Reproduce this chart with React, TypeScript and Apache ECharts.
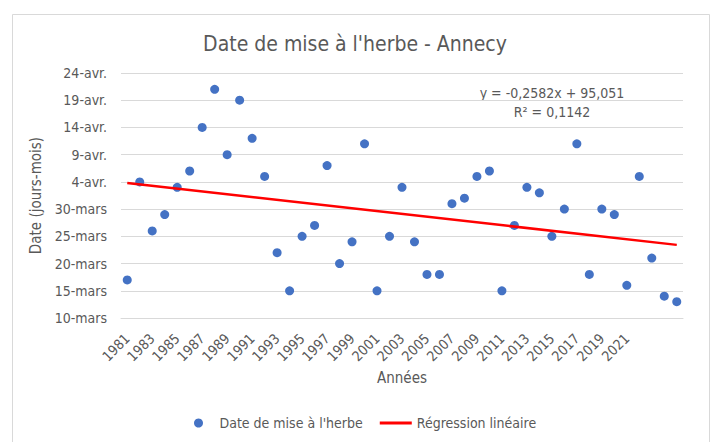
import React, { useEffect, useRef } from "react";
import * as echarts from "echarts";

const years: string[] = [
  "1981","1982","1983","1984","1985","1986","1987","1988","1989","1990",
  "1991","1992","1993","1994","1995","1996","1997","1998","1999","2000",
  "2001","2002","2003","2004","2005","2006","2007","2008","2009","2010",
  "2011","2012","2013","2014","2015","2016","2017","2018","2019","2020",
  "2021","2022","2023","2024","2025",
];

// Excel date serial (day of year in 1900 base): 70 = 10-mars ... 115 = 24-avr.
const grazingDate: number[] = [
  77, 95, 86, 89, 94, 97, 105, 112, 100, 110,
  103, 96, 82, 75, 85, 87, 98, 80, 84, 102,
  75, 85, 94, 84, 78, 78, 91, 92, 96, 97,
  75, 87, 94, 93, 85, 90, 102, 78, 90, 89,
  76, 96, 81, 74, 73,
];

const yTickValues: number[] = [70, 75, 80, 85, 90, 95, 100, 105, 110, 115];
const yTickLabels: string[] = [
  "10-mars", "15-mars", "20-mars", "25-mars", "30-mars",
  "4-avr.", "9-avr.", "14-avr.", "19-avr.", "24-avr.",
];

const regSlope = -0.2582;
const regIntercept = 95.051;
const regEquation = "y = -0,2582x + 95,051";
const regR2 = "R² = 0,1142";
const lastLabelledYear = 2021;

const FONT = "'Liberation Sans Narrow', 'DejaVu Sans Condensed', sans-serif";
const TXT = "#595959";

export default function App() {
  const ref = useRef<HTMLDivElement>(null);
  useEffect(() => {
    if (!ref.current) return;
    const chart = echarts.init(ref.current, undefined, { renderer: "svg" });
    const n = years.length;
    const regData = [
      [years[0], regSlope * 1 + regIntercept],
      [years[n - 1], regSlope * n + regIntercept],
    ];
    chart.setOption({
      animation: false,
      backgroundColor: "#ffffff",
      textStyle: { fontFamily: FONT },
      title: {
        text: "Date de mise à l'herbe - Annecy",
        left: "center",
        top: 28,
        textStyle: { fontFamily: FONT, fontSize: 21, fontWeight: "normal", color: TXT },
      },
      graphic: [
        {
          type: "rect",
          left: 10,
          top: 12,
          shape: { width: 697, height: 440 },
          style: { fill: "none", stroke: "#D9D9D9", lineWidth: 1 },
          silent: true,
        },
        {
          type: "text",
          x: 552,
          y: 93,
          style: {
            text: regEquation,
            fill: TXT,
            font: `14px ${FONT}`,
            textAlign: "center",
            textVerticalAlign: "middle",
          },
        },
        {
          type: "text",
          x: 552,
          y: 112,
          style: {
            text: regR2,
            fill: TXT,
            font: `14px ${FONT}`,
            textAlign: "center",
            textVerticalAlign: "middle",
          },
        },
      ],
      legend: {
        left: 194,
        top: 416,
        padding: 0,
        itemWidth: 32,
        itemHeight: 9,
        itemGap: 17,
        textStyle: { fontFamily: FONT, fontSize: 14, color: TXT },
        data: [
          { name: "Date de mise à l'herbe", icon: "circle", itemStyle: { color: "#4472C4", opacity: 1 } },
          { name: "Régression linéaire", icon: "path://M0 0H32V3H0Z", itemStyle: { color: "#FF0000" } },
        ],
      },
      grid: { left: 121, right: 27, top: 73, bottom: 124 },
      xAxis: {
        type: "category",
        data: years,
        boundaryGap: true,
        axisTick: { show: false },
        axisLine: { lineStyle: { color: "#D9D9D9" } },
        axisLabel: {
          rotate: 45,
          color: TXT,
          fontSize: 14,
          fontFamily: FONT,
          margin: 18,
          interval: (idx: number, val: string) =>
            idx % 2 === 0 && Number(val) <= lastLabelledYear,
        },
        name: "Années",
        nameLocation: "middle",
        nameGap: 52,
        nameTextStyle: { color: TXT, fontSize: 15, fontFamily: FONT },
      },
      yAxis: {
        type: "value",
        min: yTickValues[0],
        max: yTickValues[yTickValues.length - 1],
        interval: 5,
        axisLine: { show: false },
        axisTick: { show: false },
        splitLine: { lineStyle: { color: "#D9D9D9", width: 1 } },
        axisLabel: {
          color: TXT,
          fontSize: 14,
          fontFamily: FONT,
          margin: 14,
          formatter: (v: number) => {
            const i = yTickValues.indexOf(v);
            return i >= 0 ? yTickLabels[i] : "";
          },
        },
        name: "Date (jours-mois)",
        nameLocation: "middle",
        nameRotate: 90,
        nameGap: 65,
        nameTextStyle: { color: TXT, fontSize: 15, fontFamily: FONT },
      },
      series: [
        {
          name: "Date de mise à l'herbe",
          type: "scatter",
          data: grazingDate,
          symbol: "circle",
          symbolSize: 9,
          itemStyle: { color: "#4472C4", opacity: 1 },
          z: 2,
        },
        {
          name: "Régression linéaire",
          type: "line",
          data: regData,
          symbol: "none",
          showSymbol: false,
          lineStyle: { color: "#FF0000", width: 2.5 },
          itemStyle: { color: "#FF0000" },
          z: 3,
        },
      ],
    });
    return () => chart.dispose();
  }, []);
  return (
    <div
      ref={ref}
      style={{ position: "absolute", left: 0, top: 0, width: 710, height: 442, background: "#fff" }}
    />
  );
}
